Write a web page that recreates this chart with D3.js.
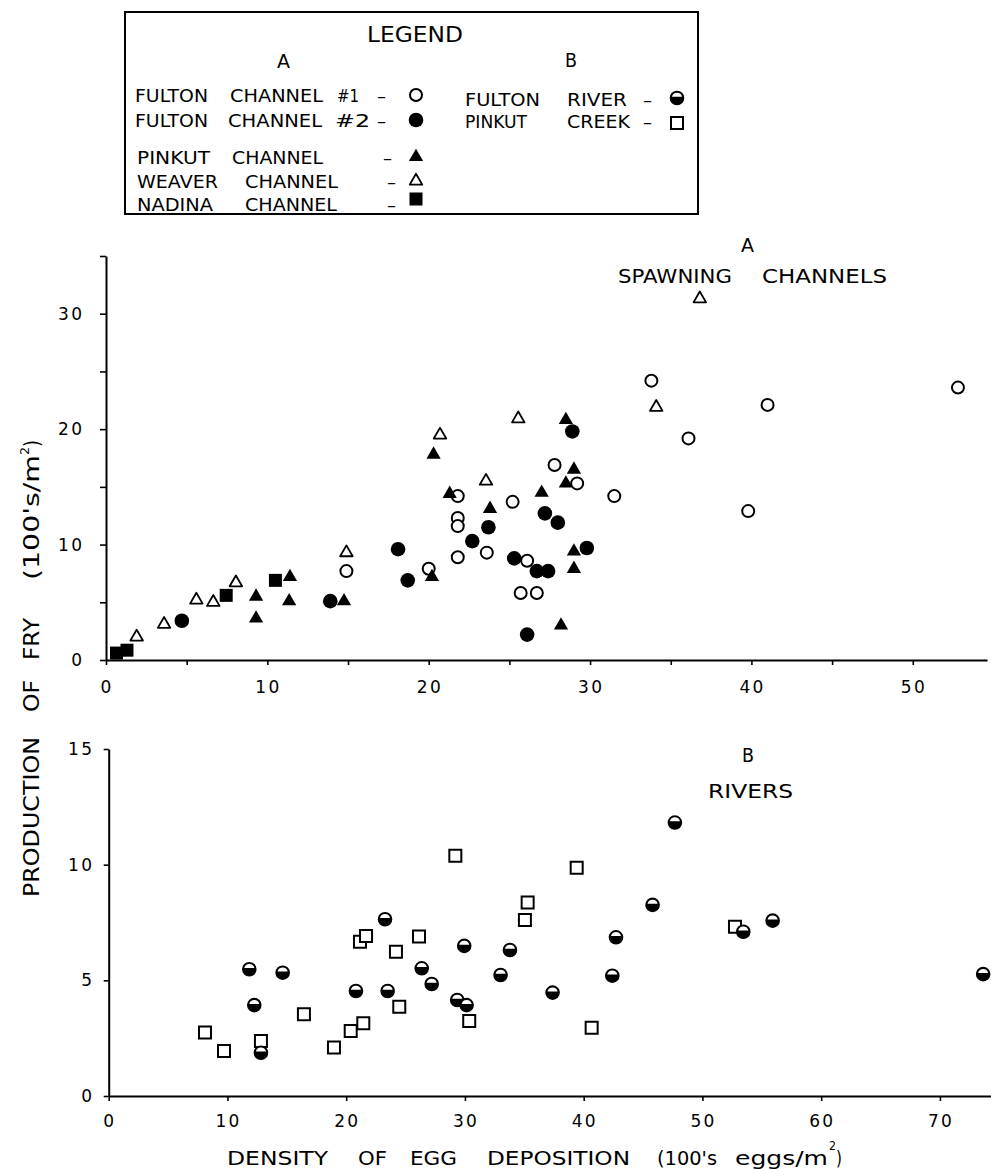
<!DOCTYPE html>
<html>
<head>
<meta charset="utf-8">
<script src="https://cdn.jsdelivr.net/npm/d3@7"></script>
<style>
  body { margin: 0; background: #fff; }
  text { font-family: "DejaVu Sans", sans-serif; fill: #000; }
</style>
</head>
<body>
<div id="chart-area"></div>
<script>
// ---- data (100's eggs/m2 , 100's fry/m2) ----
const fultonCh1 = [[14.9,7.7],[20.0,7.9],[21.8,14.2],[21.8,12.3],[21.8,11.6],[21.8,8.9],[23.6,9.3],
  [25.2,13.7],[25.7,5.8],[26.7,5.8],[26.1,8.6],[27.8,16.9],[29.2,15.3],[31.5,14.2],[33.8,24.2],
  [36.1,19.2],[41.0,22.1],[39.8,12.9],[52.8,23.6]]
const fultonCh2 = [[4.7,3.4],[13.9,5.1],[18.1,9.6],[18.7,6.9],[22.7,10.3],[23.7,11.5],[25.3,8.8],
  [26.1,2.2],[26.7,7.7],[27.4,7.7],[27.2,12.7],[28.0,11.9],[28.9,19.8],[29.8,9.7]]
const pinkutCh = [[9.3,5.5],[9.3,3.6],[11.4,7.2],[11.35,5.1],[14.75,5.1],[20.3,17.8],[20.2,7.2],
  [21.3,14.4],[23.8,13.1],[27.0,14.5],[28.5,20.8],[29.0,16.5],[28.5,15.3],[29.0,9.4],[29.0,7.9],[28.2,3.0]]
const weaverCh = [[1.9,2.0],[3.6,3.1],[5.6,5.2],[6.65,5.0],[8.05,6.7],[14.9,9.3],[20.7,19.5],
  [23.55,15.5],[25.55,20.9],[34.1,21.9],[36.8,31.3]]
const nadinaCh = [[0.65,0.6],[1.3,0.85],[7.45,5.6],[10.5,6.9]]

const fultonRiver = [[11.84,5.48],[12.26,3.93],[14.65,5.33],[12.82,1.87],[20.82,4.54],[23.27,7.64],
  [23.49,4.54],[26.36,5.52],[27.2,4.84],[29.35,4.15],[30.14,3.93],[29.94,6.49],[33.0,5.23],
  [33.79,6.31],[37.38,4.47],[42.41,5.2],[42.72,6.86],[45.8,8.26],[47.68,11.82],[53.44,7.1],
  [55.91,7.58],[73.64,5.27]]
const pinkutCreek = [[8.11,2.75],[9.71,1.95],[12.82,2.38],[16.44,3.53],[18.97,2.1],[20.38,2.81],
  [21.44,3.14],[21.16,6.67],[21.67,6.92],[24.19,6.24],[24.47,3.86],[26.13,6.89],[29.19,10.39],
  [30.36,3.24],[35.05,7.61],[35.28,8.36],[39.41,9.87],[40.67,2.95],[52.74,7.32]]

const namesA = ["FULTON CHANNEL #1", "FULTON CHANNEL #2", "PINKUT CHANNEL", "WEAVER CHANNEL", "NADINA CHANNEL"]
const namesB = ["FULTON RIVER", "PINKUT CREEK"]

const ticksAX = [0,5,10,15,20,25,30,35,40,45,50]
const ticksAY = [0,5,10,15,20,25,30,35]
const labelsAX = [0,10,20,30,40,50]
const labelsAY = [0,10,20,30]
const ticksBX = [0,10,20,30,40,50,60,70]
const ticksBY = [0,5,10,15]

// ---- svg ----
const svg = d3.select('#chart-area').append('svg')
  .attr('width', 991).attr('height', 1169)
svg.append('rect').attr('width', 991).attr('height', 1169).attr('fill', '#fff')

const xA = d3.scaleLinear().domain([0, 54.6]).range([106, 987])
const yA = d3.scaleLinear().domain([0, 35]).range([660, 256])
const xB = d3.scaleLinear().domain([0, 74.3]).range([108.7, 991])
const yB = d3.scaleLinear().domain([0, 15]).range([1096, 749])

function styleAxis(g) {
  g.select('.domain').attr('stroke', '#000').attr('stroke-width', 2)
  g.selectAll('.tick line').attr('stroke', '#000').attr('stroke-width', 1.6)
  g.selectAll('.tick text').remove()
}

// axis lines + tick marks (labels are drawn below as plain text)
svg.append('g').attr('transform', 'translate(0,660)')
  .call(d3.axisBottom(xA).tickValues(ticksAX).tickSize(5).tickSizeOuter(0))
  .call(styleAxis)
svg.append('g').attr('transform', 'translate(106,0)')
  .call(d3.axisLeft(yA).tickValues(ticksAY).tickSize(6).tickSizeOuter(0))
  .call(styleAxis)
svg.append('g').attr('transform', 'translate(0,1096)')
  .call(d3.axisBottom(xB).tickValues(ticksBX).tickSize(5).tickSizeOuter(0))
  .call(styleAxis)
svg.append('g').attr('transform', 'translate(108.7,0)')
  .call(d3.axisLeft(yB).tickValues(ticksBY).tickSize(5).tickSizeOuter(0))
  .call(styleAxis)

function tickLabel(v, x, y, anchor) {
  const s = String(v)
  const t = svg.append('text').attr('x', x).attr('y', y).attr('font-size', 17)
    .attr('text-anchor', anchor).text(s)
  if (s.length > 1) t.attr('textLength', 24).attr('lengthAdjust', 'spacing')
}
labelsAX.forEach(v => tickLabel(v, xA(v), 693, 'middle'))
labelsAY.forEach(v => tickLabel(v, 82, yA(v) + 6, 'end'))
ticksBX.forEach(v => tickLabel(v, xB(v), 1127, 'middle'))
ticksBY.forEach(v => tickLabel(v, 92, yB(v) + 6, 'end'))

// ---- markers ----
const tri = d3.symbol().type(d3.symbolTriangle)
const sq = d3.symbol().type(d3.symbolSquare)

function marker(g, kind, cx, cy) {
  const m = g.append('g').attr('transform', `translate(${cx},${cy})`)
  if (kind === 'openCircle') {
    m.append('circle').attr('r', 6).attr('fill', '#fff').attr('stroke', '#000').attr('stroke-width', 2)
  } else if (kind === 'fillCircle') {
    m.append('circle').attr('r', 7.3).attr('fill', '#000')
  } else if (kind === 'fillTri') {
    m.append('path').attr('d', tri.size(88)()).attr('fill', '#000')
  } else if (kind === 'openTri') {
    m.append('path').attr('d', tri.size(68)()).attr('fill', '#fff').attr('stroke', '#000')
      .attr('stroke-width', 1.8).attr('stroke-linejoin', 'round')
  } else if (kind === 'fillSquare') {
    m.append('path').attr('d', sq.size(169)()).attr('fill', '#000')
  } else if (kind === 'openSquare') {
    m.append('path').attr('d', sq.size(144)()).attr('fill', '#fff').attr('stroke', '#000').attr('stroke-width', 2)
  } else if (kind === 'halfCircle') {
    m.append('circle').attr('r', 6.6).attr('fill', '#000').attr('stroke', '#000').attr('stroke-width', 1.4)
    const r = 5.2, h = 1.2, a = Math.sqrt(r * r - h * h)
    m.append('path').attr('d', `M${-a},${-h} A${r},${r} 0 0 1 ${a},${-h} Z`).attr('fill', '#fff')
  }
}

function drawSeries(data, kind, x, y) {
  const g = svg.append('g').attr('class', kind)
  data.forEach(d => marker(g, kind, x(d[0]), y(d[1])))
}

drawSeries(fultonCh1, 'openCircle', xA, yA)
drawSeries(weaverCh, 'openTri', xA, yA)
drawSeries(pinkutCh, 'fillTri', xA, yA)
drawSeries(fultonCh2, 'fillCircle', xA, yA)
drawSeries(nadinaCh, 'fillSquare', xA, yA)

drawSeries(pinkutCreek, 'openSquare', xB, yB)
drawSeries(fultonRiver, 'halfCircle', xB, yB)

// ---- text helpers ----
function word(t, x0, x1, base, size) {
  return svg.append('text').attr('x', x0).attr('y', base).attr('font-size', size)
    .attr('textLength', x1 - x0).attr('lengthAdjust', 'spacingAndGlyphs').text(t)
}
function vword(t, yBot, yTop, base, size) {
  return svg.append('text').attr('transform', `translate(${base},${yBot}) rotate(-90)`)
    .attr('font-size', size).attr('textLength', yBot - yTop)
    .attr('lengthAdjust', 'spacingAndGlyphs').text(t)
}

// panel titles
word('A', 741, 754, 252, 20)
word('SPAWNING', 618, 732, 283, 20)
word('CHANNELS', 762, 887, 283, 20)
word('B', 742, 754, 762, 20)
word('RIVERS', 708, 793, 798, 20)

// x title
word('DENSITY', 227, 328, 1165, 20)
word('OF', 358, 387, 1165, 20)
word('EGG', 410, 457, 1165, 20)
word('DEPOSITION', 487, 630, 1165, 20)
word("(100's", 657, 717, 1165, 20)
word('eggs/m', 735, 828, 1165, 20)
word('2', 829, 836, 1150, 13)
word(')', 836, 842, 1165, 20)

// y title
vword('PRODUCTION', 897, 737, 39, 21)
vword('OF', 712, 680, 39, 21)
vword('FRY', 660, 618, 39, 21)
vword("(100's/m", 580, 455, 39, 21)
vword('2', 455, 447, 29, 13)
vword(')', 447, 440, 39, 21)

// ---- legend ----
svg.append('rect').attr('x', 125).attr('y', 12).attr('width', 573).attr('height', 202)
  .attr('fill', 'none').attr('stroke', '#000').attr('stroke-width', 2)
word('LEGEND', 367, 463, 42, 21)
word('A', 277, 290, 68, 19)
word('B', 565, 577, 67, 19)

const kindsA = ['openCircle', 'fillCircle', 'fillTri', 'openTri', 'fillSquare']
const kindsB = ['halfCircle', 'openSquare']
// word extents for each legend row
const layoutA = [
  { base: 102, mark: 95, dash: 377, words: [[135, 208], [230, 323], [337, 359]] },
  { base: 127, mark: 120, dash: 377, words: [[135, 208], [228, 322], [335, 370]] },
  { base: 164, mark: 157, dash: 383, words: [[137, 210], [232, 323]] },
  { base: 188, mark: 181, dash: 387, words: [[137, 218], [245, 338]] },
  { base: 211, mark: 199, dash: 387, words: [[137, 213], [245, 337]] }
]
const layoutB = [
  { base: 106, mark: 98, dash: 643, words: [[465, 540], [567, 627]] },
  { base: 128, mark: 123, dash: 643, words: [[465, 527], [567, 630]] }
]
const lg = svg.append('g')
function legendRow(name, kind, lay, markX) {
  const parts = name.split(' ')
  parts.forEach((p, i) => {
    if (lay.words[i]) word(p, lay.words[i][0], lay.words[i][1], lay.base, 18)
  })
  svg.append('text').attr('x', lay.dash).attr('y', lay.base).attr('font-size', 18).text('–')
  marker(lg, kind, markX, lay.mark)
}
namesA.forEach((n, i) => legendRow(n, kindsA[i], layoutA[i], 416))
namesB.forEach((n, i) => legendRow(n, kindsB[i], layoutB[i], 677))
</script>
</body>
</html>
